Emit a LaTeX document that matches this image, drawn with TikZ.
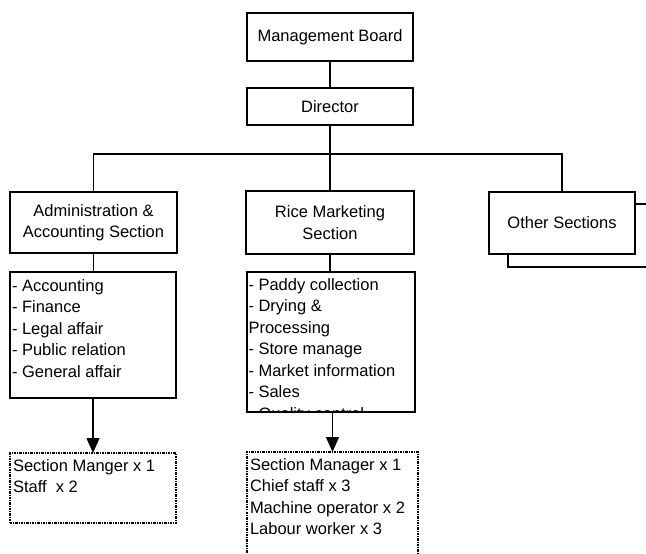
\documentclass[tikz,border=0pt]{standalone}
\usepackage{fontspec}
\setmainfont{Liberation Sans}
\usetikzlibrary{arrows.meta}
\begin{document}
\begin{tikzpicture}[x=1bp,y=-1bp,
  every node/.style={font=\fontsize{16.5bp}{21.5bp}\selectfont, inner sep=0pt, outer sep=0pt},
  box/.style={draw, line width=1.1bp, fill=white, align=center},
  listbox/.style={draw, line width=1.1bp},
  staffbox/.style={draw, line width=1.2bp, dash pattern=on 2.5bp off 1bp on 1bp off 1bp},
  listtext/.style={anchor=north west, align=left},
  link/.style={line width=1.1bp},
  arrowlink/.style={line width=1.1bp, -{Triangle[width=13bp,length=15bp]}}]
\useasboundingbox (0,0) rectangle (646,554);

% top of the hierarchy
\node[box, minimum width=166bp, minimum height=48bp] (mb) at (330,37) {Management Board};
\node[box, minimum width=166bp, minimum height=37bp] (dir) at (330,106.5) {Director};

% sections
\node[box, minimum width=167bp, minimum height=61bp] (adm) at (93.5,222.5) {Administration \&\\Accounting Section};
\node[box, minimum width=168bp, minimum height=63bp] (rice) at (330,222.5) {Rice Marketing\\Section};
\node[listbox, minimum width=160bp, minimum height=63bp] (othback) at (588,235.5) {};
\node[box, minimum width=146bp, minimum height=62bp] (oth) at (562,223) {Other Sections};

% task lists
\node[listbox, minimum width=166bp, minimum height=126bp] (admlist) at (93,335) {};
\node[listtext] (admtext) at (12,278.5) {\rule{0pt}{12.5bp}- Accounting\\- Finance\\- Legal affair\\- Public relation\\- General affair};

\node[listbox, minimum width=168bp, minimum height=140bp] (ricelist) at (331,342) {};
\begin{scope}
  \clip (247,272) rectangle (415,412);
  \node[listtext] (ricetext) at (248.5,277.5) {\rule{0pt}{12.5bp}- Paddy collection\\- Drying \&\\Processing\\- Store manage\\- Market information\\- Sales\\- Quality control};
\end{scope}

% staffing
\node[staffbox, minimum width=166bp, minimum height=70bp] (admstaff) at (93,488) {};
\node[listtext] (admstafftext) at (13,458.5) {\rule{0pt}{12.5bp}Section Manger x 1\\Staff~ x 2};

\node[staffbox, minimum width=171bp, minimum height=110bp] (ricestaff) at (332.5,507) {};
\node[listtext] (ricestafftext) at (250,457.5) {\rule{0pt}{12.5bp}Section Manager x 1\\Chief staff x 3\\Machine operator x 2\\Labour worker x 3};

% connectors
\coordinate (bus) at (330,154);
\draw[link] (mb.south) -- (dir.north);
\draw[link] (dir.south) -- (bus);
\draw[link] (adm.north) |- (bus) -| (oth.north);
\draw[link] (bus) -- (rice.north);
\draw[link] (adm.south) -- (adm.south |- admlist.north);
\draw[link] (rice.south) -- (rice.south |- ricelist.north);
\draw[arrowlink] (admlist.south) -- (admstaff.north);
\draw[arrowlink] (ricelist.south -| ricestaff.north) -- (ricestaff.north);
\end{tikzpicture}
\end{document}
